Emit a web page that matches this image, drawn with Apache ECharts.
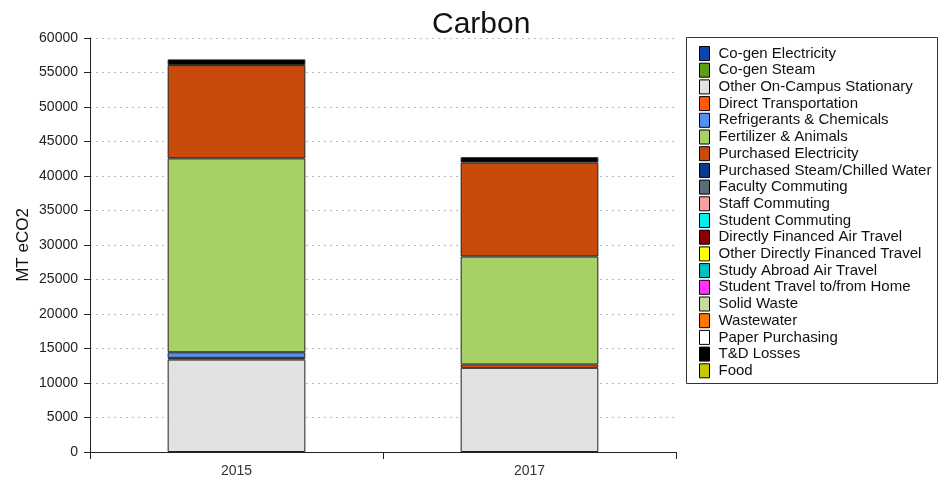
<!DOCTYPE html>
<html>
<head>
<meta charset="utf-8">
<script src="https://cdn.jsdelivr.net/npm/echarts@6/dist/echarts.min.js"></script>
<style>html,body{margin:0;padding:0;background:#fff}#c{width:941px;height:481px}</style>
</head>
<body>
<div id="c"></div>
<script>
const years = ['2015', '2017'];
const seriesNames = ['Co-gen Electricity','Co-gen Steam','Other On-Campus Stationary','Direct Transportation','Refrigerants & Chemicals','Fertilizer & Animals','Purchased Electricity','Purchased Steam/Chilled Water','Faculty Commuting','Staff Commuting','Student Commuting','Directly Financed Air Travel','Other Directly Financed Travel','Study Abroad Air Travel','Student Travel to/from Home','Solid Waste','Wastewater','Paper Purchasing','T&D Losses','Food'];
const seriesColors = ['#0b45b0','#5c9e16','#e2e2e2','#ff5a0a','#5590f0','#a6d165','#c84b0c','#0b3a8c','#5c6b7a','#f7a0a0','#00f0f0','#8b0000','#ffff00','#00c0c0','#ff33ff','#c8dca0','#ff7700','#ffffff','#000000','#c8c800'];
const coGenElectricity = [0, 0];
const coGenSteam = [0, 0];
const otherOnCampus = [13400, 12200];
const directTransportation = [250, 480];
const refrigerants = [800, 0];
const fertilizer = [28100, 15650];
const purchasedElectricity = [13520, 13620];
const purchasedSteam = [0, 0];
const facultyCommuting = [0, 0];
const staffCommuting = [0, 0];
const studentCommuting = [0, 0];
const airTravel = [0, 0];
const otherTravel = [0, 0];
const studyAbroad = [0, 0];
const studentTravel = [0, 0];
const solidWaste = [0, 0];
const wastewater = [0, 0];
const paper = [0, 0];
const tdLosses = [830, 780];
const food = [0, 0];
const yTicks = [0, 60000, 5000];

const allData = [coGenElectricity, coGenSteam, otherOnCampus, directTransportation, refrigerants, fertilizer, purchasedElectricity, purchasedSteam, facultyCommuting, staffCommuting, studentCommuting, airTravel, otherTravel, studyAbroad, studentTravel, solidWaste, wastewater, paper, tdLosses, food];

const chart = echarts.init(document.getElementById('c'));
const font = 'Liberation Sans, Arial, sans-serif';
chart.setOption({
  animation: false,
  textStyle: { fontFamily: font },
  title: { text: 'Carbon', left: 427, top: 5, textStyle: { fontSize: 30, fontWeight: 'normal', color: '#111', fontFamily: font } },
  grid: { left: 90, right: 265, top: 38, bottom: 29 },
  legend: {
    orient: 'vertical', left: 699, top: 46, padding: 0,
    itemWidth: 10, itemHeight: 14, itemGap: 1.7,
    icon: 'rect',
    itemStyle: { borderColor: '#000', borderWidth: 1 },
    textStyle: { fontSize: 15, color: '#111', lineHeight: 15, padding: [0, 0, 0, 4] },
    data: seriesNames
  },
  graphic: [{ type: 'rect', shape: { x: 686.5, y: 37.5, width: 251, height: 346 }, style: { fill: 'none', stroke: '#333', lineWidth: 1 }, z: 100 }],
  xAxis: {
    type: 'category', data: years,
    axisLine: { lineStyle: { color: '#222' } },
    axisTick: { show: true, length: 7, lineStyle: { color: '#222' } },
    axisLabel: { fontSize: 14, color: '#333', margin: 12 }
  },
  yAxis: {
    type: 'value', min: yTicks[0], max: yTicks[1], interval: yTicks[2],
    name: 'MT eCO2', nameLocation: 'middle', nameGap: 58, nameMoveOverlap: false,
    nameTextStyle: { fontSize: 17, color: '#111' },
    axisLine: { show: true, lineStyle: { color: '#222' } },
    axisTick: { show: true, length: 6, lineStyle: { color: '#222' } },
    axisLabel: { fontSize: 14, color: '#222', margin: 12, formatter: v => String(v) },
    splitLine: { lineStyle: { color: '#bbb', type: [2, 4] } }
  },
  series: seriesNames.map((n, i) => ({
    name: n, type: 'bar', stack: 'total', barWidth: '47%',
    itemStyle: { color: seriesColors[i], borderColor: '#222', borderWidth: 1 },
    data: allData[i].map(v => v === 0 ? '-' : v)
  }))
});
</script>
</body>
</html>
